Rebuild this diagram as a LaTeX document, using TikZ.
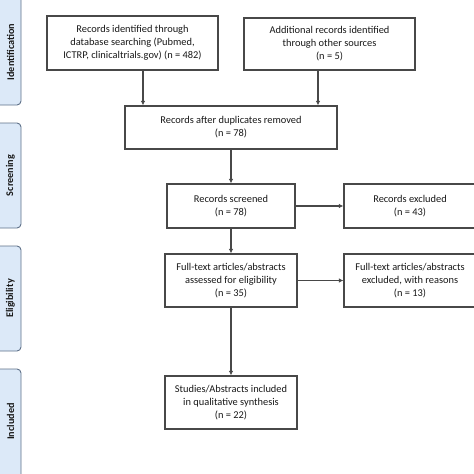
\documentclass[tikz,border=0pt]{standalone}
\usepackage{fontspec}
\setmainfont{Carlito}
\usetikzlibrary{arrows.meta}

\definecolor{panelfill}{HTML}{DCE9F8}
\definecolor{paneldraw}{HTML}{5F7189}
\definecolor{boxline}{HTML}{484848}

\begin{document}
\begin{tikzpicture}[
            x=1pt, y=-1pt,
            box/.style={draw=boxline, line width=1.2pt, fill=white, align=center, inner sep=2pt,
                text=black!90, font=\fontsize{10.4}{13}\selectfont},
            panel/.style={draw=paneldraw, line width=0.9pt, fill=panelfill, rounded corners=4pt},
            phase/.style={rotate=90, font=\fontsize{10.2}{12}\selectfont\bfseries, text=black!90},
            arr/.style={draw=boxline, line width=1.2pt, -{Latex[length=4.5pt,width=4.5pt]}}
        ]
            \useasboundingbox (0,0) rectangle (474,474);

            % phase panels on the left
            \draw[panel] (-6,-4) rectangle (21,105);
            \draw[panel] (-6,123) rectangle (21,228);
            \draw[panel] (-6,246) rectangle (21,351);
            \draw[panel] (-6,369) rectangle (21,484);
            \node[phase] (identification) at (10.5,52) {Identification};
            \node[phase] (screening) at (10.5,175.5) {Screening};
            \node[phase] (eligibility) at (10.5,298.5) {Eligibility};
            \node[phase] (included) at (10.5,421.5) {Included};

            % flow boxes
            \node[box, minimum width=171pt, minimum height=54pt] (database) at (132.5,43)
                {Records identified through\\database searching (Pubmed,\\ICTRP, clinicaltrials.gov) (n = 482)};
            \node[box, minimum width=171pt, minimum height=52pt] (other) at (329.5,44)
                {Additional records identified\\through other sources\\(n = 5)};
            \node[box, minimum width=212pt, minimum height=43pt] (duplicates) at (231,127.5)
                {Records after duplicates removed\\(n = 78)};
            \node[box, minimum width=128pt, minimum height=44pt] (screened) at (231,206)
                {Records screened\\(n = 78)};
            \node[box, minimum width=132pt, minimum height=44pt] (excluded) at (410,206)
                {Records excluded\\(n = 43)};
            \node[box, minimum width=132pt, minimum height=53pt] (fulltext) at (231,280.5)
                {Full-text articles/abstracts\\assessed for eligibility\\(n = 35)};
            \node[box, minimum width=132pt, minimum height=53pt] (fulltextex) at (410,280.5)
                {Full-text articles/abstracts\\excluded, with reasons\\(n = 13)};
            \node[box, minimum width=132pt, minimum height=53pt] (studies) at (231,402.5)
                {Studies/Abstracts included\\in qualitative synthesis\\(n = 22)};

            % connectors
            \draw[arr] ([xshift=10.5pt]database.south) -- ([xshift=10.5pt]database.south |- duplicates.north);
            \draw[arr] ([xshift=-11.5pt]other.south) -- ([xshift=-11.5pt]other.south |- duplicates.north);
            \draw[arr] (duplicates) -- (screened);
            \draw[arr] (screened) -- (excluded);
            \draw[arr] (screened) -- (fulltext);
            \draw[arr] (fulltext) -- (fulltextex);
            \draw[arr] (fulltext) -- (studies);
        \end{tikzpicture}
\end{document}
